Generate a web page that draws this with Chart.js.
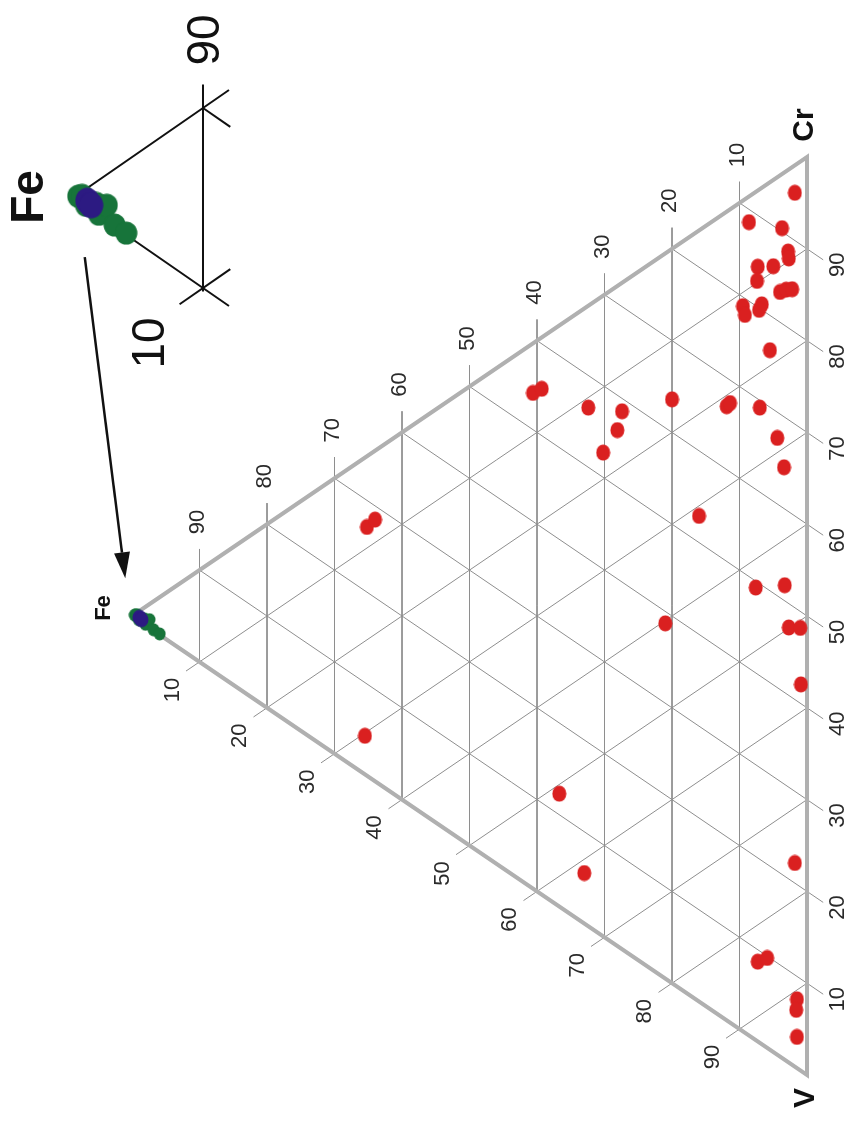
<!DOCTYPE html>
<html>
<head>
<meta charset="utf-8">
<script src="https://cdn.jsdelivr.net/npm/chart.js@4.4.0/dist/chart.umd.min.js"></script>
<style>
  html, body { margin: 0; padding: 0; background: #fff; }
  #wrap { position: relative; width: 855px; height: 1121px; }
  #main, #inset { position: absolute; left: 0; top: 0; }
</style>
</head>
<body>
<div id="wrap">
  <canvas id="main" width="855" height="1121"></canvas>
  <canvas id="inset" width="260" height="380"></canvas>
</div>
<script>
// Ternary samples, wt% (Fe, Cr, V)
const feRed = [1.8, 8.6, 3.7, 2.8, 2.7, 7.3, 5.0, 7.4, 4.0, 3.1, 2.2, 9.5, 9.2, 6.7, 7.1, 5.5,
  40.6, 39.3, 32.4, 27.4, 28.1, 30.2, 20.0, 11.9, 11.4, 7.0, 4.4, 3.4, 16.0, 7.6, 3.3, 21.0,
  2.7, 1.0, 0.9, 65.2, 64.0, 65.5, 36.7, 33.0, 1.8, 7.3, 5.9, 1.5, 1.6, 1.5];
const crRed = [95.2, 88.6, 90.4, 88.3, 87.6, 84.4, 85.6, 82.8, 83.3, 84.0, 84.5, 79.0, 78.2, 80.6, 79.8, 76.2,
  54.0, 55.1, 56.5, 58.6, 56.2, 52.7, 63.6, 66.9, 67.5, 69.2, 67.2, 64.5, 52.9, 49.3, 51.7, 38.7,
  47.4, 48.2, 42.1, 27.1, 28.5, 4.2, 12.3, 5.5, 22.2, 8.7, 9.8, 7.5, 6.3, 3.4];
const vRed = [3.0, 2.8, 5.9, 8.9, 9.7, 8.3, 9.4, 9.8, 12.7, 12.9, 13.3, 11.5, 12.6, 12.7, 13.1, 18.3,
  5.4, 5.6, 11.1, 14.0, 15.7, 17.1, 16.4, 21.2, 21.1, 23.8, 28.4, 32.1, 31.1, 43.1, 45.0, 40.3,
  49.9, 50.8, 57.0, 7.7, 7.5, 30.3, 51.0, 61.5, 76.0, 84.0, 84.3, 91.0, 92.1, 95.1];

const feGreen = [99.6, 99.3, 99.0, 98.2, 98.0, 97.4, 96.8, 95.9];
const crGreen = [0.3, 0.5, 0.1, 0.6, 0.1, 0.9, 0.1, 0.1];
const vGreen = [0.1, 0.2, 0.9, 1.2, 1.9, 1.7, 3.1, 4.0];

const feBlue = [98.9, 98.6];
const crBlue = [0.4, 0.3];
const vBlue = [0.7, 1.1];

const gridTicks = [10, 20, 30, 40, 50, 60, 70, 80, 90];
const tickLabels = ['10', '20', '30', '40', '50', '60', '70', '80', '90'];

const FONT = '"Liberation Sans", Arial, sans-serif';
const GRID_COLOR = '#8e8e8e';
const EDGE_COLOR = '#b0b0b0';
const RED = '#da2020';
const GREEN = '#17743a';
const BLUE = '#2c1a82';

// (Fe, Cr, V) -> plane: Fe apex at x=0, Cr-V side at x=100
function tern(fe, cr, v) {
  const s = fe + cr + v;
  return { x: 100 - fe * 100 / s, y: (cr - v) * 50 / s };
}

function points(fe, cr, v) {
  return fe.map((f, i) => tern(f, cr[i], v[i]));
}

function dot(w, h, color) {
  const c = document.createElement('canvas');
  c.width = w; c.height = h;
  const g = c.getContext('2d');
  g.fillStyle = color;
  g.beginPath();
  g.ellipse(w / 2, h / 2, w / 2 - 0.5, h / 2 - 0.5, 0, 0, Math.PI * 2);
  g.fill();
  return c;
}

function lineSet(pts, color, width, order) {
  return {
    type: 'line', data: pts, showLine: true, pointRadius: 0, borderColor: color,
    borderWidth: width, fill: false, order: order, parsing: false
  };
}

function dotSet(pts, img, order) {
  return {
    type: 'scatter', data: pts, pointStyle: img, pointRadius: 7,
    pointHoverRadius: 7, order: order
  };
}

function rotText(ctx, text, x, y) {
  ctx.save();
  ctx.translate(x, y);
  ctx.rotate(-Math.PI / 2);
  ctx.fillText(text, 0, 0);
  ctx.restore();
}

// ✅ Main ternary
const mainSets = [];
gridTicks.forEach(t => {
  mainSets.push(lineSet([tern(t, 102.3 - t, -2.3), tern(t, 0, 100 - t)], GRID_COLOR, 1, 3));
  mainSets.push(lineSet([tern(100 - t, t, 0), tern(-2.4, t, 102.4 - t)], GRID_COLOR, 1, 3));
  mainSets.push(lineSet([tern(102 - t, -2, t), tern(0, 100 - t, t)], GRID_COLOR, 1, 3));
});
mainSets.push(lineSet([tern(100, 0, 0), tern(0, 100, 0), tern(0, 0, 100), tern(100, 0, 0)], EDGE_COLOR, 4, 2));
mainSets.push(dotSet(points(feRed, crRed, vRed), dot(15, 17, RED), 1));
mainSets.push(dotSet(points(feGreen, crGreen, vGreen), dot(13, 14, GREEN), 1));
mainSets.push(dotSet(points(feBlue, crBlue, vBlue), dot(15, 16, BLUE), 0));

const ARROW = { from: { x: -7.0, y: 39.1 }, to: { x: -1.0, y: 4.1 } };

const mainLabels = {
  id: 'mainLabels',
  afterDatasetsDraw(chart) {
    const { ctx, scales: { x, y } } = chart;
    const px = p => [x.getPixelForValue(p.x), y.getPixelForValue(p.y)];
    ctx.save();
    ctx.fillStyle = '#2a2a2a';
    ctx.textAlign = 'center';
    ctx.textBaseline = 'middle';
    ctx.font = '22px ' + FONT;
    gridTicks.forEach((t, i) => {
      const [fx, fy] = px(tern(t, 100 - t, 0));
      rotText(ctx, tickLabels[i], fx - 2, fy - 48);
      const [cx, cy] = px(tern(0, t, 100 - t));
      rotText(ctx, tickLabels[i], cx + 31, cy + 16);
      const [vx, vy] = px(tern(100 - t, 0, t));
      rotText(ctx, tickLabels[i], vx - 27, vy + 28);
    });

    ctx.fillStyle = '#111';
    ctx.font = 'bold 22px ' + FONT;
    let [ax, ay] = px(tern(100, 0, 0));
    rotText(ctx, 'Fe', ax - 28, ay - 8);
    ctx.font = 'bold 30px ' + FONT;
    [ax, ay] = px(tern(0, 100, 0));
    rotText(ctx, 'Cr', ax - 2, ay - 32);
    [ax, ay] = px(tern(0, 0, 100));
    rotText(ctx, 'V', ax - 1, ay + 23);

    // arrow from inset down to the Fe apex
    const [x0, y0] = px(ARROW.from);
    const [x1, y1] = px(ARROW.to);
    const ang = Math.atan2(y1 - y0, x1 - x0);
    const head = 26, half = 8;
    const bx = x1 - head * Math.cos(ang), by = y1 - head * Math.sin(ang);
    ctx.strokeStyle = '#111';
    ctx.lineWidth = 2.5;
    ctx.beginPath();
    ctx.moveTo(x0, y0);
    ctx.lineTo(bx, by);
    ctx.stroke();
    ctx.beginPath();
    ctx.moveTo(x1, y1);
    ctx.lineTo(bx + half * Math.sin(ang), by - half * Math.cos(ang));
    ctx.lineTo(bx - half * Math.sin(ang), by + half * Math.cos(ang));
    ctx.closePath();
    ctx.fill();
    ctx.restore();
  }
};

const hidden = { display: false };

new Chart(document.getElementById('main'), {
  type: 'scatter',
  data: { datasets: mainSets },
  options: {
    responsive: false,
    animation: false,
    events: [],
    layout: { padding: 0, autoPadding: false },
    plugins: { legend: { display: false }, tooltip: { enabled: false } },
    scales: {
      x: { type: 'linear', min: -19.556, max: 107.111, ...hidden },
      y: { type: 'linear', min: -55.011, max: 67.102, ...hidden }
    }
  },
  plugins: [mainLabels]
});

// ✅ Inset: enlarged Fe corner
const insetSets = [
  lineSet([tern(88, 12, 0), tern(100, 0, 0), tern(88, 0, 12)], '#111', 2, 2),
  lineSet([tern(90, 11.3, -1.3), tern(90, -0.2, 10.2)], '#111', 2, 2),
  lineSet([tern(90, 10, 0), tern(87.9, 10, 2.1)], '#111', 2, 2),
  lineSet([tern(91.8, -1.8, 10), tern(87.9, 2.1, 10)], '#111', 2, 2),
  dotSet(points(feGreen, crGreen, vGreen), dot(23, 24, GREEN), 1),
  dotSet(points(feBlue, crBlue, vBlue), dot(25, 27, BLUE), 0)
];

const insetLabels = {
  id: 'insetLabels',
  afterDatasetsDraw(chart) {
    const { ctx, scales: { x, y } } = chart;
    const px = p => [x.getPixelForValue(p.x), y.getPixelForValue(p.y)];
    ctx.save();
    ctx.fillStyle = '#111';
    ctx.textAlign = 'center';
    ctx.textBaseline = 'middle';
    ctx.font = '46px ' + FONT;
    let [lx, ly] = px(tern(90, 10, 0));
    rotText(ctx, '90', lx + 3, ly - 68);
    [lx, ly] = px(tern(90, 0, 10));
    rotText(ctx, '10', lx - 52, ly + 55);
    ctx.font = 'bold 46px ' + FONT;
    [lx, ly] = px(tern(100, 0, 0));
    rotText(ctx, 'Fe', lx - 43, ly - 1);
    ctx.restore();
  }
};

new Chart(document.getElementById('inset'), {
  type: 'scatter',
  data: { datasets: insetSets },
  options: {
    responsive: false,
    animation: false,
    events: [],
    layout: { padding: 0, autoPadding: false },
    plugins: { legend: { display: false }, tooltip: { enabled: false } },
    scales: {
      x: { type: 'linear', min: -5.615, max: 14.385, ...hidden },
      y: { type: 'linear', min: -10.111, max: 11.0, ...hidden }
    }
  },
  plugins: [insetLabels]
});
</script>
</body>
</html>
